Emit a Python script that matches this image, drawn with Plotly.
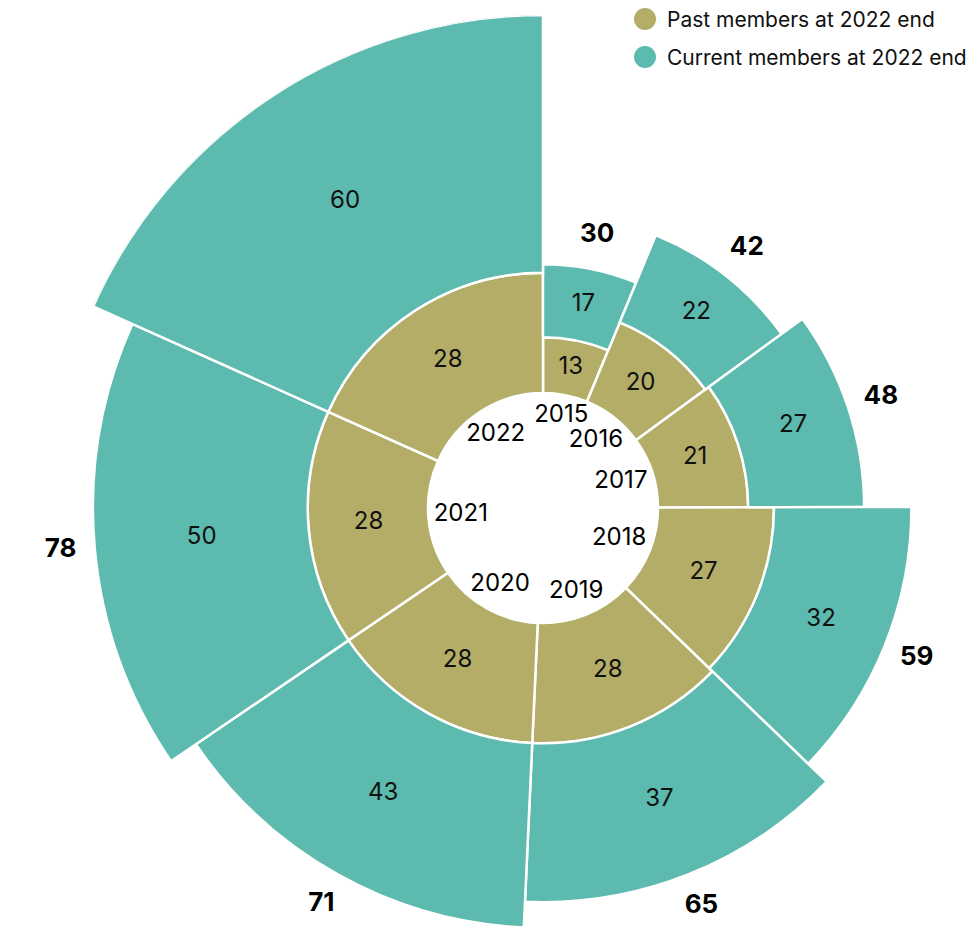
import math
import plotly.graph_objects as go

# Membership by joining year, split by status at the end of 2022
years = ["2015", "2016", "2017", "2018", "2019", "2020", "2021", "2022"]
past_members = [13, 20, 21, 27, 28, 28, 28, 28]
current_members = [17, 22, 27, 32, 37, 43, 50, 60]
legend_labels = ["Past members at 2022 end", "Current members at 2022 end"]

totals = [p + c for p, c in zip(past_members, current_members)]

OLIVE = "#B4AD67"
TEAL = "#5CBAAF"
FONT = "Inter"

# Sector angles: each year's wedge width is proportional to its total
grand_total = sum(totals)
widths = [360.0 * t / grand_total for t in totals]
centers = []
acc = 0.0
for w in widths:
    centers.append(acc + w / 2.0)
    acc += w

# Canvas geometry (pixels)
FIG_W, FIG_H = 1040, 1010
CX, CY = 543, 508
R_OUT = 493
HOLE_PX = 115

max_total = max(totals)
px_per_unit = (R_OUT - HOLE_PX) / max_total
hole_units = HOLE_PX / px_per_unit

# Year labels sit inside the hole: push each one outwards until its text box
# touches an inner circle, so labels spread out around the ring.
INNER_FIT = 111
HALF_W, HALF_H = 28, 9


def year_label_radius(theta_deg):
    s = abs(math.sin(math.radians(theta_deg)))
    c = abs(math.cos(math.radians(theta_deg)))
    d = 0.0
    while (d * s + HALF_W) ** 2 + (d * c + HALF_H) ** 2 < INNER_FIT ** 2:
        d += 0.5
    return d / px_per_unit - hole_units


fig = go.Figure()

fig.add_trace(go.Barpolar(
    r=past_members, theta=centers, width=widths,
    marker=dict(color=OLIVE, line=dict(color="white", width=2.5)),
    name=legend_labels[0], showlegend=False, hoverinfo="skip",
))
fig.add_trace(go.Barpolar(
    r=current_members, theta=centers, width=widths,
    marker=dict(color=TEAL, line=dict(color="white", width=2.5)),
    name=legend_labels[1], showlegend=False, hoverinfo="skip",
))

# Segment value labels
fig.add_trace(go.Scatterpolar(
    r=[p / 2 for p in past_members], theta=centers, mode="text",
    text=[str(v) for v in past_members],
    textfont=dict(family=FONT, size=24, color="#111111"),
    showlegend=False, hoverinfo="skip",
))
fig.add_trace(go.Scatterpolar(
    r=[p + c / 2 for p, c in zip(past_members, current_members)],
    theta=centers, mode="text",
    text=[str(v) for v in current_members],
    textfont=dict(family=FONT, size=24, color="#111111"),
    showlegend=False, hoverinfo="skip",
))
# Totals outside each wedge
fig.add_trace(go.Scatterpolar(
    r=[t + 8 for t in totals], theta=centers, mode="text",
    text=[str(t) for t in totals],
    textfont=dict(family=FONT, size=26, color="#000000", weight="bold"),
    showlegend=False, hoverinfo="skip",
))
# Year labels inside the hole
fig.add_trace(go.Scatterpolar(
    r=[year_label_radius(t) for t in centers], theta=centers, mode="text",
    text=years,
    textfont=dict(family=FONT, size=24, color="#000000"),
    showlegend=False, hoverinfo="skip",
))


# Legend drawn as circles + text in the top-right corner
def px_x(x):
    return x / FIG_W


def px_y(y):
    return 1 - y / FIG_H


shapes = []
annotations = []
for i, (label, color) in enumerate(zip(legend_labels, [OLIVE, TEAL])):
    y = 19 + i * 38
    shapes.append(dict(
        type="circle", xref="paper", yref="paper",
        x0=px_x(634), x1=px_x(656), y0=px_y(y + 11), y1=px_y(y - 11),
        fillcolor=color, line=dict(width=0),
    ))
    annotations.append(dict(
        x=px_x(665), y=px_y(y), xref="paper", yref="paper",
        text=label, showarrow=False, xanchor="left", yanchor="middle",
        font=dict(family=FONT, size=21, color="#111111"),
    ))

fig.update_layout(
    width=FIG_W, height=FIG_H,
    margin=dict(l=0, r=0, t=0, b=0),
    paper_bgcolor="white", plot_bgcolor="white",
    showlegend=False,
    shapes=shapes, annotations=annotations,
    polar=dict(
        domain=dict(
            x=[(CX - R_OUT) / FIG_W, (CX + R_OUT) / FIG_W],
            y=[1 - (CY + R_OUT) / FIG_H, 1 - (CY - R_OUT) / FIG_H],
        ),
        bgcolor="white",
        barmode="stack",
        hole=0,
        radialaxis=dict(range=[-hole_units, max_total], visible=False,
                        showgrid=False, showline=False, showticklabels=False),
        angularaxis=dict(rotation=90, direction="clockwise",
                         showgrid=False, showline=False, showticklabels=False,
                         ticks=""),
    ),
)

fig.write_html(
    "out.html",
    post_script="document.documentElement.style.overflow='hidden';"
                "document.body.style.overflow='hidden';document.body.style.margin='0';",
)
